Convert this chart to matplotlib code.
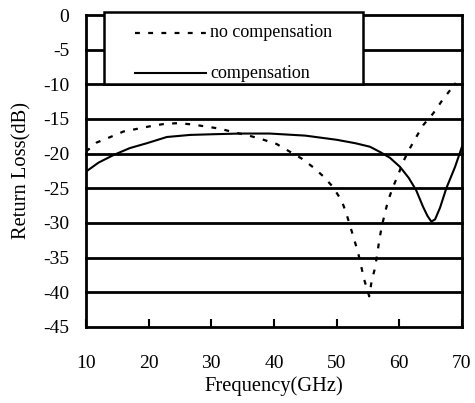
import matplotlib
matplotlib.use("Agg")
import matplotlib.pyplot as plt
from matplotlib.patches import Rectangle
from matplotlib.lines import Line2D

plt.rcParams["font.family"] = ["Liberation Serif", "DejaVu Serif"]
plt.rcParams["lines.scale_dashes"] = False

# Return loss without compensation (dashed)
freq_nc = [10, 11.7, 13.9, 16, 18.3, 20.5, 22.6, 24.7, 27.1, 29.2, 31.4, 33.5,
           36, 38, 40.4, 42.3, 44.4, 46.3, 47.9, 49.4, 50.8, 51.5, 52.1, 52.8,
           53.4, 53.9, 54.4, 55.2, 55.6, 56.1, 56.5, 56.8, 57.2, 57.7, 58.2,
           59, 59.8, 60.6, 61.7, 62.7, 63.8, 65.4, 66.7, 68.3, 69]
rl_nc = [-19.7, -18.4, -17.6, -16.8, -16.4, -16.0, -15.7, -15.6, -15.8, -16.1,
         -16.4, -16.9, -17.4, -17.9, -18.6, -19.6, -20.7, -22.0, -23.3, -24.8,
         -26.8, -28.5, -30.3, -32.4, -34.2, -36.2, -38.2, -40.6, -38.3, -36.6,
         -34.4, -32.5, -30.5, -28.6, -26.8, -24.8, -23.1, -21.2, -19.2, -17.6,
         -15.9, -14.2, -12.5, -10.6, -9.8]

# Return loss with compensation (solid)
freq_c = [10, 12, 14.4, 17, 19.7, 22.9, 26.6, 30.3, 34.6, 39.3, 45, 50, 53,
          55.3, 57, 58.5, 60.1, 61.5, 62.7, 63.8, 64.5, 65.1, 65.7, 66.5, 67.5,
          68.9, 70]
rl_c = [-22.6, -21.3, -20.2, -19.2, -18.5, -17.6, -17.3, -17.2, -17.1, -17.1,
        -17.4, -18.0, -18.5, -19.0, -19.8, -20.6, -21.9, -23.5, -25.3, -27.7,
        -29.0, -29.8, -29.5, -27.8, -25.0, -21.9, -19.0]

x_ticks = [10, 20, 30, 40, 50, 60, 70]
y_ticks = [0, -5, -10, -15, -20, -25, -30, -35, -40, -45]
labels = ["no compensation", "compensation"]

fig = plt.figure(figsize=(4.75, 4.03), dpi=100)
ax = fig.add_axes([0.181, 0.189, 0.7916, 0.7736])
ax.set_xlim(10, 70)
ax.set_ylim(-45, 0)

# horizontal grid lines every 5 dB
for y in y_ticks[:-1]:
    ax.axhline(y, color="black", lw=2.0, zorder=1, clip_on=False)

dash = (0, (3.5, 6.0))
ax.plot(freq_nc, rl_nc, color="black", lw=1.6, linestyle=dash, zorder=3)
ax.plot(freq_c, rl_c, color="black", lw=1.5, zorder=3)

# legend box sitting on top of the grid
box = Rectangle((12.9, -10), 54.2 - 12.9, 10.4, facecolor="white",
                edgecolor="black", lw=1.8, zorder=4, clip_on=False)
ax.add_patch(box)
ax.add_line(Line2D([17.8, 29.2], [-2.55, -2.55], color="black", lw=1.6,
                   linestyle=dash, zorder=5, clip_on=False))
ax.add_line(Line2D([17.8, 29.2], [-8.3, -8.3], color="black", lw=1.5,
                   zorder=5, clip_on=False))
ax.text(29.8, -2.5, labels[0], fontsize=13, va="center", ha="left", zorder=6)
ax.text(29.8, -8.5, labels[1], fontsize=13, va="center", ha="left", zorder=6)

for side in ["left", "bottom", "right"]:
    ax.spines[side].set_linewidth(2.0)
ax.spines["top"].set_visible(False)

ax.set_xticks(x_ticks)
ax.set_yticks(y_ticks)
ax.set_xticklabels([str(v) for v in x_ticks])
ax.set_yticklabels([str(v) for v in y_ticks])
ax.tick_params(axis="x", direction="in", length=6, width=1.5, pad=20,
               labelsize=14)
ax.tick_params(axis="y", length=0, pad=12, labelsize=14)

ax.set_xlabel("Frequency(GHz)", fontsize=14.8, labelpad=3)
ax.set_ylabel("Return Loss(dB)", fontsize=14.8)
ax.yaxis.set_label_coords(-0.146, 0.5)

fig.savefig("out.png", dpi=100)
